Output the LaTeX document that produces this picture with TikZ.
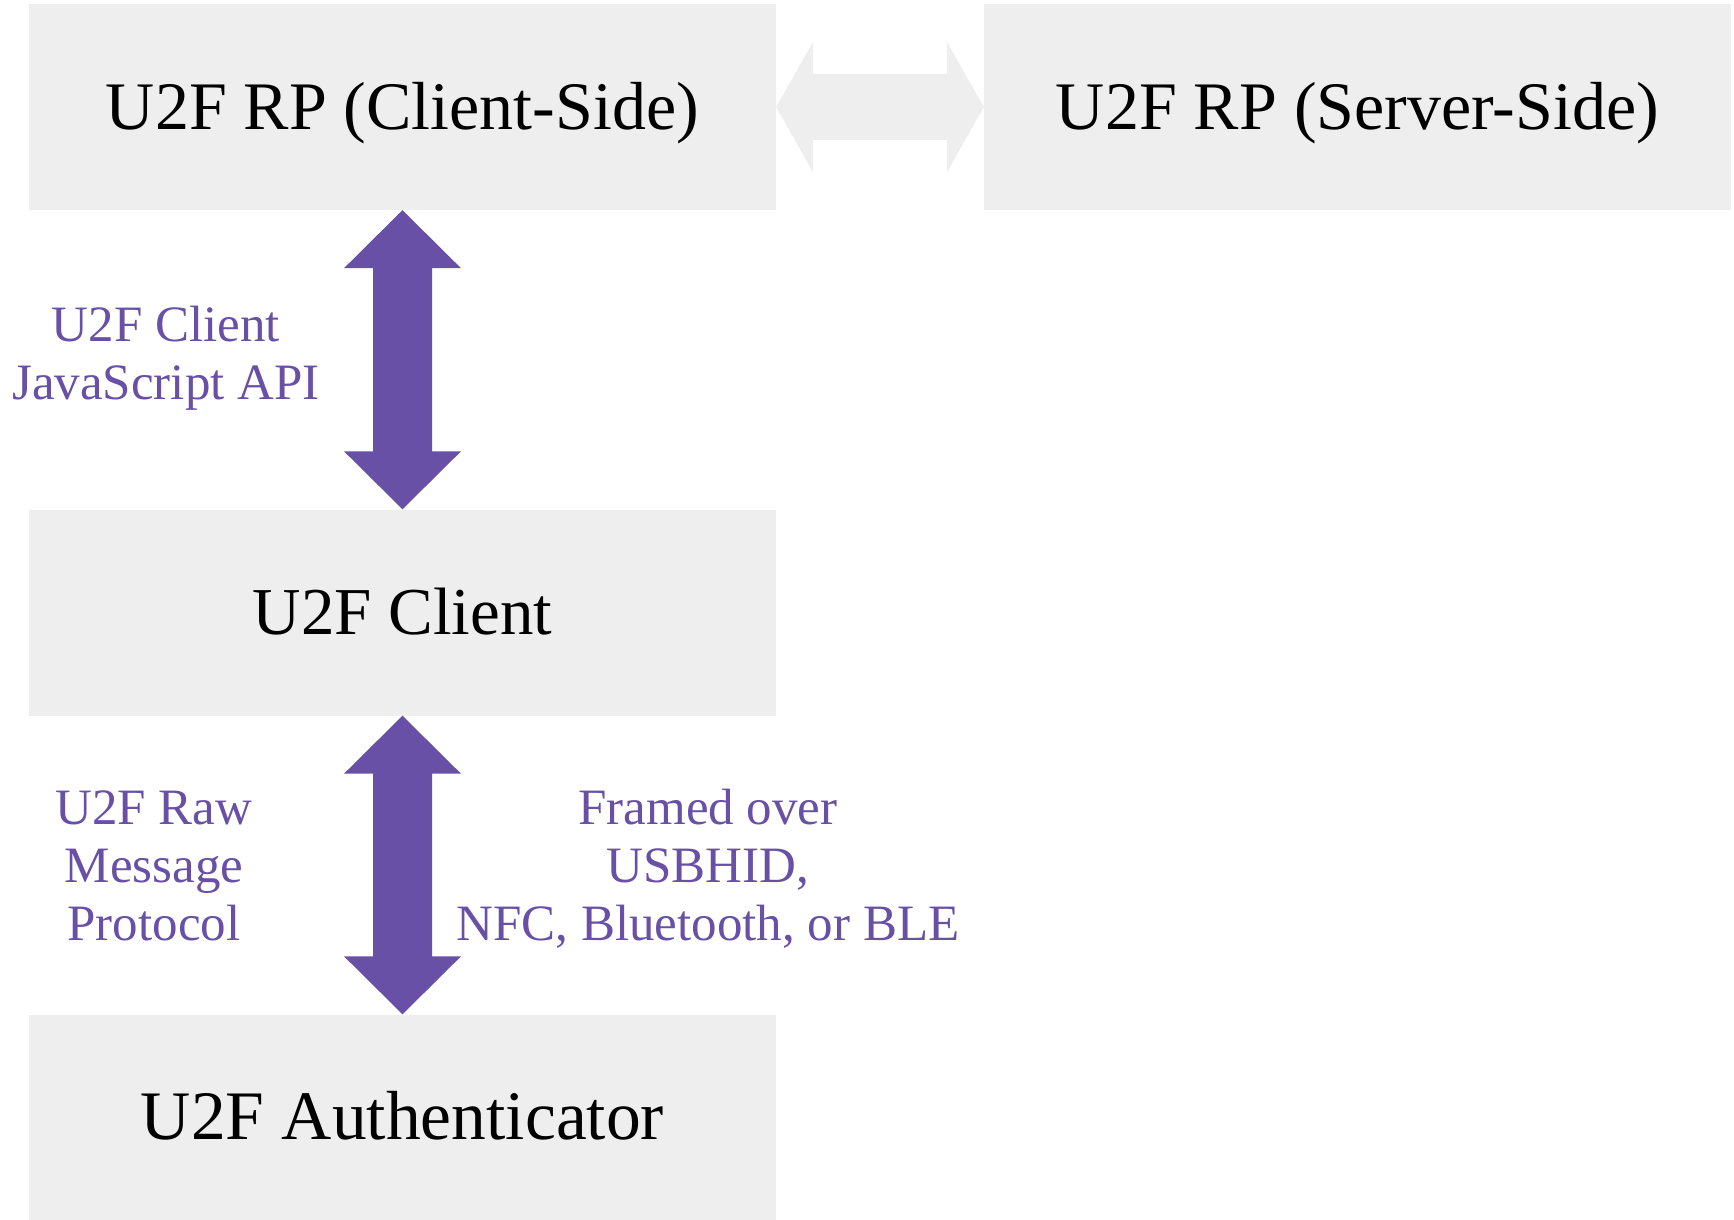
\documentclass[tikz,border=0pt]{standalone}
\usepackage{fontspec}
\setmainfont{Liberation Serif}
\usetikzlibrary{calc}
\definecolor{boxgray}{RGB}{238,238,238}
\definecolor{linkpurple}{RGB}{104,80,166}
% vertical double block arrow from the bottom of #1 to the top of #2
\newcommand\vlink[2]{%
  \fill[linkpurple] (#1.south) -- ++(58.5,58) -- ++(-29,0)
    -- ($(#2.north)+(29.5,-58)$) -- ++(29,0) -- (#2.north)
    -- ++(-58.5,-58) -- ++(29,0) -- ($(#1.south)+(-29.5,58)$)
    -- ++(-29,0) -- cycle;}
\begin{document}
\begin{tikzpicture}[x=1pt,y=-1pt,
  box/.style={fill=boxgray, minimum width=747pt, minimum height=206pt,
    inner sep=0pt, text height=44pt, text depth=0pt,
    font=\fontsize{67}{80}\selectfont},
  tag/.style={text=linkpurple, align=center, inner sep=0pt, anchor=base,
    font=\fontsize{51}{58}\selectfont}]
\useasboundingbox (0,0) rectangle (1734,1220);

% components
\node[box, font=\fontsize{68}{80}\selectfont] (rpc) at (402.5,107) {U2F RP (Client-Side)};
\node[box, font=\fontsize{68}{80}\selectfont] (rps) at (1357.5,107) {U2F RP (Server-Side)};
\node[box] (client) at (402.5,612.5) {U2F Client};
\node[box, font=\fontsize{69.5}{80}\selectfont] (auth) at (402.5,1117.5) {U2F Authenticator};

% client side <-> server side
\fill[boxgray] (rpc.east) -- ++(37,-65.5) -- ++(0,32.5)
  -- ($(rps.west)+(-37,-33)$) -- ++(0,-32.5) -- (rps.west)
  -- ++(-37,65.5) -- ++(0,-32.5) -- ($(rpc.east)+(37,33)$)
  -- ++(0,32.5) -- cycle;

% protocol links
\vlink{rpc}{client}
\vlink{client}{auth}

% link labels (base anchor sits on the last line)
\node[tag] (api)    at (166,399) {U2F Client\\JavaScript API};
\node[tag] (raw)    at (154,940) {U2F Raw\\Message\\Protocol};
\node[tag] (framed) at (708,940) {Framed over\\USBHID,\\NFC, Bluetooth, or BLE};
\end{tikzpicture}
\end{document}
